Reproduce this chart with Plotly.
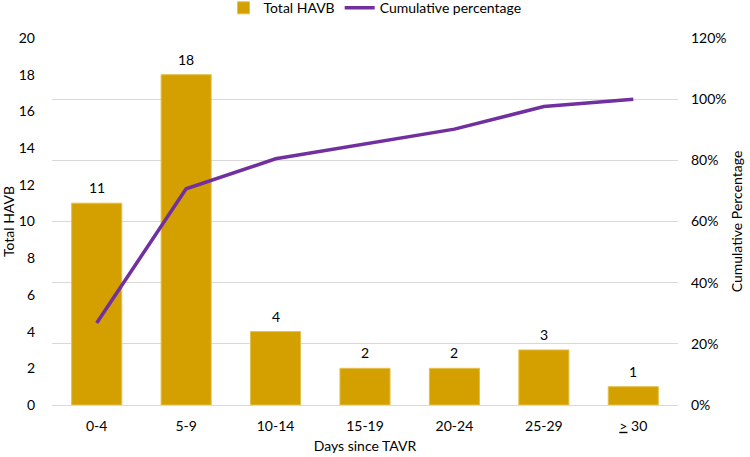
import plotly.graph_objects as go

categories = ["0-4", "5-9", "10-14", "15-19", "20-24", "25-29", "<u>></u> 30"]
total_havb = [11, 18, 4, 2, 2, 3, 1]
cumulative_pct = [26.8, 70.7, 80.5, 85.4, 90.2, 97.6, 100.0]
left_ticks = [0, 2, 4, 6, 8, 10, 12, 14, 16, 18, 20]
right_ticks = [0, 20, 40, 60, 80, 100, 120]
right_labels = [f"{v}%" for v in right_ticks]

FONT = "Lato"
FS = 14
fig = go.Figure()
fig.add_trace(go.Bar(
    x=categories, y=total_havb, name="Total HAVB",
    marker=dict(color="#D4A000", line=dict(color="#E3C04D", width=1)),
))
fig.add_trace(go.Scatter(
    x=categories, y=cumulative_pct, name="Cumulative percentage",
    yaxis="y2", mode="lines", line=dict(color="#7030A0", width=3.5),
))
for c, v in zip(categories, total_havb):
    fig.add_annotation(x=c, y=v, xref="x", yref="y", text=str(v), showarrow=False,
                       yanchor="bottom", yshift=5, font=dict(size=FS, color="#000"))
fig.update_layout(
    width=750, height=457,
    margin=dict(l=52, r=72, t=38, b=52, autoexpand=False),
    plot_bgcolor="white", paper_bgcolor="white",
    font=dict(family=FONT, size=FS, color="#000"),
    bargap=0.44,
    showlegend=True,
    legend=dict(orientation="h", x=0.5, xanchor="center", xref="container",
                y=0.982, yanchor="middle", yref="container",
                font=dict(size=FS), traceorder="normal"),
    xaxis=dict(showgrid=False, showline=True, linecolor="#D9D9D9", ticks="",
               ticklabelstandoff=8,
               title=dict(text="Days since TAVR", standoff=8, font=dict(size=FS))),
    yaxis=dict(range=[0, 20], tickvals=left_ticks, showgrid=False, zeroline=False,
               ticks="", ticklabelstandoff=16,
               title=dict(text="Total HAVB", standoff=6, font=dict(size=FS))),
    yaxis2=dict(overlaying="y", side="right", range=[0, 120], tickvals=right_ticks,
                ticktext=right_labels, showgrid=True, gridcolor="#D9D9D9", zeroline=False,
                ticks="", ticklabelstandoff=12,
                title=dict(text="Cumulative Percentage", standoff=6, font=dict(size=FS))),
)
fig.write_html("out.html")
